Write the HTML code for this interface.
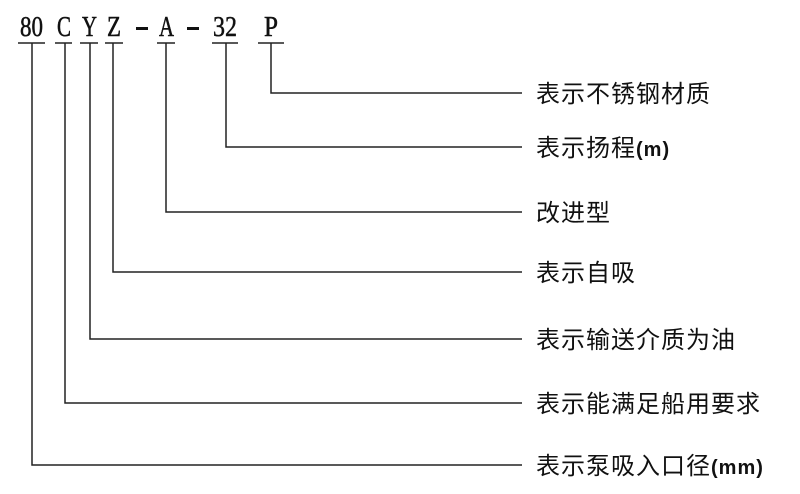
<!DOCTYPE html>
<html><head><meta charset="utf-8"><style>
body{margin:0;background:#fff;}
</style></head><body>
<svg width="800" height="494" xmlns="http://www.w3.org/2000/svg" style="display:block">
<g font-family="Liberation Serif, DejaVu Serif, serif" font-size="28" fill="#111" stroke="#111" stroke-width="0.5">
<text x="20" y="36" textLength="23" lengthAdjust="spacingAndGlyphs">80</text>
<text x="57" y="36" textLength="14" lengthAdjust="spacingAndGlyphs">C</text>
<text x="82" y="36" textLength="15" lengthAdjust="spacingAndGlyphs">Y</text>
<text x="107" y="36" textLength="14" lengthAdjust="spacingAndGlyphs">Z</text>
<text x="159" y="36" textLength="15" lengthAdjust="spacingAndGlyphs">A</text>
<text x="213" y="36" textLength="24" lengthAdjust="spacingAndGlyphs">32</text>
<text x="264" y="36" textLength="14" lengthAdjust="spacingAndGlyphs">P</text>
</g>
<rect x="136" y="27" width="12" height="3" fill="#111"/>
<rect x="187" y="27" width="12" height="3" fill="#111"/>
<g stroke="#222" stroke-width="1.5" fill="none">
<line x1="18" y1="43" x2="45" y2="43"/>
<line x1="55" y1="43" x2="72" y2="43"/>
<line x1="80" y1="43" x2="98" y2="43"/>
<line x1="105" y1="43" x2="123" y2="43"/>
<line x1="157" y1="43" x2="175" y2="43"/>
<line x1="212" y1="43" x2="238" y2="43"/>
<line x1="258" y1="43" x2="284" y2="43"/>
<polyline points="271,43 271,93 522,93"/>
<polyline points="226,43 226,147 522,147"/>
<polyline points="166,43 166,212 522,212"/>
<polyline points="113,43 113,272 522,272"/>
<polyline points="90,43 90,339 522,339"/>
<polyline points="65,43 65,403 522,403"/>
<polyline points="32,43 32,465 522,465"/>
</g>
<g font-family="Liberation Sans, Noto Sans CJK SC, sans-serif" font-size="24" fill="#111" letter-spacing="1">
<text x="536" y="102">表示不锈钢材质</text>
<text x="536" y="156">表示扬程<tspan font-weight="bold" font-size="20">(m)</tspan></text>
<text x="536" y="221">改进型</text>
<text x="536" y="281">表示自吸</text>
<text x="536" y="348">表示输送介质为油</text>
<text x="536" y="412">表示能满足船用要求</text>
<text x="536" y="474">表示泵吸入口径<tspan font-weight="bold" font-size="20">(mm)</tspan></text>
</g>
</svg>
</body></html>
